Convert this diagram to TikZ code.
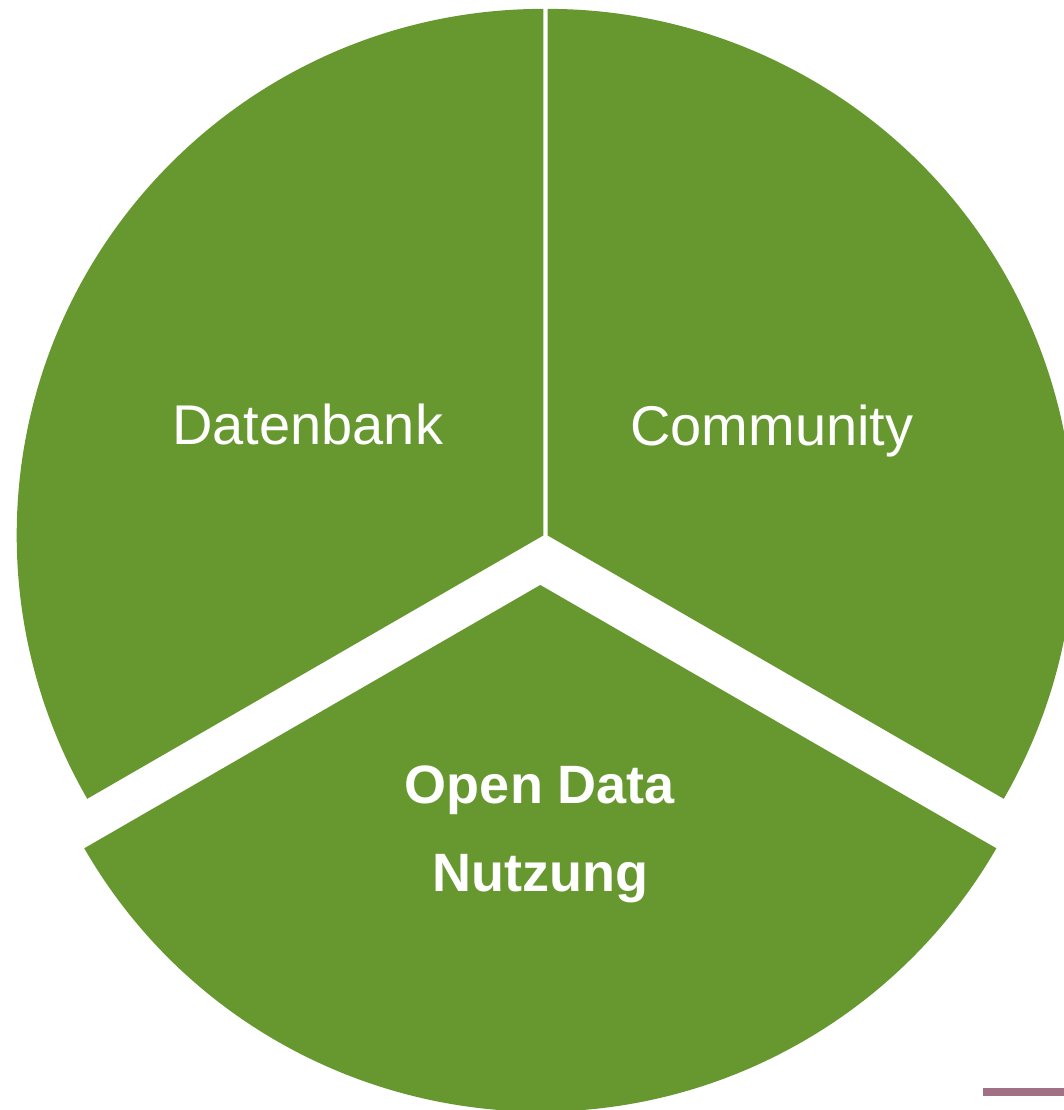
\documentclass[tikz,border=0pt]{standalone}
\usepackage{fontspec}
\setmainfont{Liberation Sans}
\definecolor{piegreen}{HTML}{66982F}
\definecolor{barpurple}{HTML}{A07085}
\begin{document}
\begin{tikzpicture}[x=1pt,y=1pt,
  sector/.style={fill=piegreen},
  lbl/.style={text=white,anchor=base,inner sep=0pt,font=\fontsize{56}{60}\selectfont},
  lblbold/.style={text=white,anchor=base,inner sep=0pt,font=\fontsize{54}{60}\selectfont\bfseries}]
\useasboundingbox (0,0) rectangle (1064,1110);
\clip (0,0) rectangle (1064,1110);
\def\R{526.6}
\coordinate (cl) at (543.3,574.5);
\coordinate (cr) at (547.7,574.5);
\coordinate (cb) at (540.3,525);
\fill[sector] (cl) -- ++(90:\R) arc[start angle=90,end angle=210,radius=\R] -- cycle;
\fill[sector] (cr) -- ++(-30:\R) arc[start angle=-30,end angle=90,radius=\R] -- cycle;
\fill[sector] (cb) -- ++(210:\R) arc[start angle=210,end angle=330,radius=\R] -- cycle;
\fill[barpurple] (983.3,13.9) rectangle (1064,21.7);
\node[lbl] (datenbank) at (307.7,665) {Datenbank};
\node[lbl] (community) at (772,664) {Community};
\node[lblbold] (open) at (540,306) {Open Data};
\node[lblbold] (nutzung) at (540.5,218) {Nutzung};
\end{tikzpicture}
\end{document}
